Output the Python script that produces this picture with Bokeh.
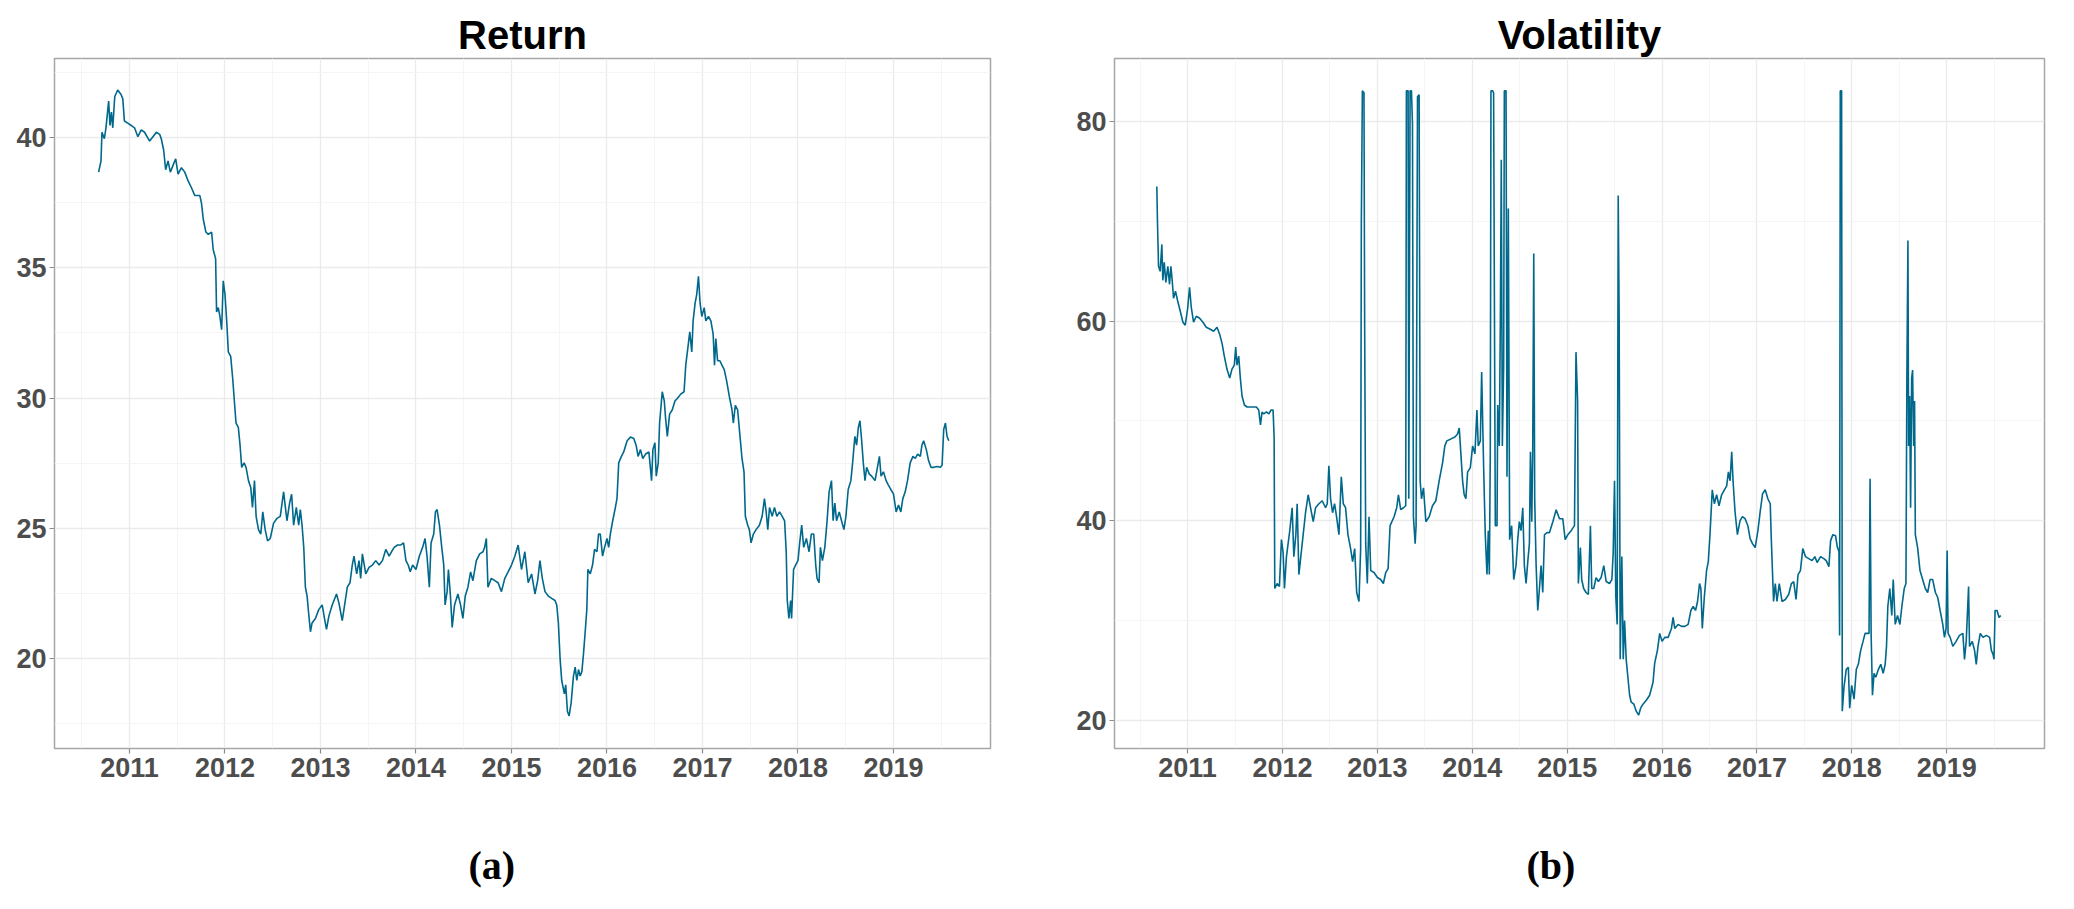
from bokeh.plotting import figure
from bokeh.models import FixedTicker, Range1d, Title, LinearAxis
from bokeh.layouts import row
from bokeh.embed import file_html
from bokeh.resources import INLINE

# ---------------- data ----------------
year_ticks = [2011, 2012, 2013, 2014, 2015, 2016, 2017, 2018, 2019]
year_minor = [2010.5, 2011.5, 2012.5, 2013.5, 2014.5, 2015.5, 2016.5, 2017.5, 2018.5, 2019.5]

return_ticks = [20, 25, 30, 35, 40]
return_minor = [17.5, 22.5, 27.5, 32.5, 37.5, 42.5]
vol_ticks = [20, 40, 60, 80]
vol_minor = [30, 50, 70]

return_year = [
    2010.677, 2010.702, 2010.712, 2010.737, 2010.754, 2010.782, 2010.796, 2010.811, 2010.825, 2010.846,
    2010.877, 2010.912, 2010.930, 2010.947, 2010.982, 2011.018, 2011.053, 2011.088, 2011.123, 2011.158,
    2011.211, 2011.246, 2011.281, 2011.316, 2011.333, 2011.358, 2011.379, 2011.404, 2011.428, 2011.456,
    2011.484, 2011.509, 2011.544, 2011.579, 2011.614, 2011.649, 2011.684, 2011.737, 2011.754, 2011.772,
    2011.800, 2011.825, 2011.860, 2011.877, 2011.902, 2011.912, 2011.930, 2011.947, 2011.965, 2011.982,
    2012.000, 2012.018, 2012.035, 2012.060, 2012.081, 2012.105, 2012.116, 2012.140, 2012.158, 2012.175,
    2012.200, 2012.221, 2012.246, 2012.270, 2012.288, 2012.309, 2012.326, 2012.351, 2012.375, 2012.396,
    2012.421, 2012.446, 2012.474, 2012.509, 2012.544, 2012.579, 2012.614, 2012.649, 2012.677, 2012.698,
    2012.719, 2012.747, 2012.772, 2012.789, 2012.807, 2012.825, 2012.842, 2012.860, 2012.877, 2012.895,
    2012.912, 2012.947, 2012.982, 2013.018, 2013.042, 2013.063, 2013.088, 2013.123, 2013.168, 2013.193,
    2013.228, 2013.253, 2013.281, 2013.309, 2013.333, 2013.351, 2013.379, 2013.404, 2013.421, 2013.439,
    2013.474, 2013.509, 2013.544, 2013.579, 2013.614, 2013.649, 2013.684, 2013.719, 2013.744, 2013.772,
    2013.807, 2013.842, 2013.870, 2013.895, 2013.919, 2013.940, 2013.965, 2014.000, 2014.035, 2014.070,
    2014.095, 2014.116, 2014.140, 2014.158, 2014.186, 2014.204, 2014.221, 2014.246, 2014.270, 2014.291,
    2014.305, 2014.326, 2014.340, 2014.361, 2014.379, 2014.404, 2014.439, 2014.467, 2014.491, 2014.516,
    2014.544, 2014.572, 2014.596, 2014.632, 2014.667, 2014.702, 2014.719, 2014.737, 2014.754, 2014.789,
    2014.825, 2014.860, 2014.895, 2014.930, 2014.965, 2015.000, 2015.035, 2015.070, 2015.105, 2015.140,
    2015.175, 2015.211, 2015.246, 2015.274, 2015.298, 2015.323, 2015.351, 2015.386, 2015.421, 2015.456,
    2015.474, 2015.491, 2015.509, 2015.526, 2015.554, 2015.568, 2015.586, 2015.604, 2015.625, 2015.649,
    2015.667, 2015.684, 2015.702, 2015.719, 2015.737, 2015.754, 2015.772, 2015.789, 2015.800, 2015.825,
    2015.849, 2015.870, 2015.895, 2015.912, 2015.930, 2015.954, 2015.975, 2016.000, 2016.018, 2016.035,
    2016.060, 2016.088, 2016.105, 2016.123, 2016.151, 2016.175, 2016.211, 2016.246, 2016.281, 2016.305,
    2016.326, 2016.351, 2016.375, 2016.404, 2016.439, 2016.467, 2016.481, 2016.502, 2016.516, 2016.537,
    2016.551, 2016.579, 2016.600, 2016.614, 2016.632, 2016.656, 2016.684, 2016.712, 2016.737, 2016.772,
    2016.807, 2016.825, 2016.853, 2016.867, 2016.888, 2016.902, 2016.923, 2016.940, 2016.958, 2016.975,
    2016.993, 2017.018, 2017.035, 2017.063, 2017.088, 2017.112, 2017.126, 2017.140, 2017.158, 2017.182,
    2017.204, 2017.228, 2017.253, 2017.281, 2017.309, 2017.323, 2017.344, 2017.368, 2017.393, 2017.414,
    2017.435, 2017.449, 2017.474, 2017.491, 2017.509, 2017.533, 2017.561, 2017.596, 2017.625, 2017.649,
    2017.667, 2017.684, 2017.702, 2017.730, 2017.754, 2017.779, 2017.807, 2017.835, 2017.860, 2017.877,
    2017.888, 2017.905, 2017.923, 2017.933, 2017.954, 2017.975, 2018.000, 2018.018, 2018.039, 2018.060,
    2018.088, 2018.116, 2018.140, 2018.165, 2018.186, 2018.200, 2018.221, 2018.235, 2018.256, 2018.281,
    2018.305, 2018.326, 2018.351, 2018.368, 2018.386, 2018.404, 2018.432, 2018.456, 2018.481, 2018.502,
    2018.526, 2018.554, 2018.572, 2018.596, 2018.614, 2018.632, 2018.649, 2018.667, 2018.684, 2018.702,
    2018.719, 2018.747, 2018.772, 2018.807, 2018.832, 2018.853, 2018.870, 2018.895, 2018.923, 2018.947,
    2018.972, 2019.000, 2019.028, 2019.053, 2019.077, 2019.098, 2019.123, 2019.147, 2019.175, 2019.204,
    2019.228, 2019.253, 2019.281, 2019.298, 2019.316, 2019.344, 2019.368, 2019.393, 2019.421, 2019.456,
    2019.491, 2019.509, 2019.526, 2019.544, 2019.561, 2019.579,
]
return_value = [
    38.67, 39.10, 40.20, 39.95, 40.37, 41.40, 40.46, 40.97, 40.37, 41.57,
    41.82, 41.65, 41.48, 40.63, 40.55, 40.46, 40.37, 40.03, 40.29, 40.20,
    39.86, 40.03, 40.20, 40.12, 39.95, 39.52, 38.76, 39.10, 38.67, 38.93,
    39.18, 38.59, 38.84, 38.67, 38.33, 38.07, 37.77, 37.77, 37.48, 36.88,
    36.37, 36.28, 36.37, 35.69, 35.35, 33.30, 33.47, 33.13, 32.62, 34.50,
    33.98, 32.96, 31.77, 31.60, 30.75, 29.55, 29.04, 28.87, 28.19, 27.34,
    27.51, 27.34, 26.83, 26.57, 25.80, 26.83, 25.46, 24.95, 24.78, 25.63,
    24.95, 24.52, 24.61, 25.20, 25.38, 25.46, 26.40, 25.29, 25.97, 26.31,
    25.12, 25.80, 25.12, 25.72, 25.12, 24.27, 22.74, 22.40, 21.71, 21.03,
    21.37, 21.54, 21.88, 22.06, 21.54, 21.12, 21.63, 22.06, 22.48, 22.14,
    21.46, 22.06, 22.74, 22.91, 23.59, 23.93, 23.25, 23.76, 23.08, 24.02,
    23.25, 23.50, 23.59, 23.76, 23.59, 23.76, 24.19, 23.93, 24.10, 24.27,
    24.36, 24.36, 24.44, 23.76, 23.59, 23.33, 23.59, 23.42, 23.93, 24.27,
    24.61, 23.93, 22.74, 24.44, 24.78, 25.63, 25.72, 25.12, 24.27, 23.59,
    22.06, 22.57, 23.42, 22.40, 21.20, 22.06, 22.48, 22.06, 21.54, 22.40,
    22.74, 23.33, 22.99, 23.76, 24.02, 24.10, 24.27, 24.61, 22.74, 23.08,
    22.99, 22.91, 22.57, 23.08, 23.33, 23.59, 23.93, 24.36, 23.42, 24.10,
    22.91, 23.25, 22.48, 22.99, 23.76, 23.08, 22.57, 22.40, 22.31, 22.23,
    22.06, 21.37, 20.01, 19.16, 18.65, 18.99, 17.97, 17.80, 18.31, 19.33,
    19.67, 19.16, 19.58, 19.33, 19.50, 20.18, 21.03, 21.88, 23.42, 23.25,
    23.59, 24.19, 24.10, 24.78, 24.78, 23.93, 24.27, 24.61, 24.27, 24.78,
    25.29, 25.80, 26.14, 27.51, 27.76, 27.93, 28.36, 28.50, 28.45, 28.19,
    27.76, 28.02, 27.68, 27.85, 27.93, 26.83, 28.02, 28.28, 27.00, 27.51,
    29.04, 30.24, 29.89, 29.21, 28.53, 29.38, 29.55, 29.89, 29.98, 30.15,
    30.24, 31.26, 32.11, 32.54, 31.77, 32.96, 33.64, 33.98, 34.67, 33.64,
    33.13, 33.47, 32.96, 33.13, 32.96, 32.45, 31.26, 32.28, 31.43, 31.43,
    31.26, 31.09, 30.66, 30.06, 29.55, 29.04, 29.72, 29.55, 28.53, 27.68,
    27.17, 25.46, 25.12, 24.95, 24.44, 24.78, 24.95, 25.12, 25.46, 26.14,
    25.63, 24.95, 25.80, 25.46, 25.80, 25.46, 25.63, 25.46, 25.29, 24.10,
    22.23, 21.54, 22.23, 21.54, 23.42, 23.59, 23.76, 24.44, 25.12, 24.27,
    24.61, 24.10, 24.78, 24.78, 23.59, 23.08, 22.91, 24.27, 23.76, 24.27,
    25.29, 26.40, 26.83, 25.29, 25.97, 25.29, 25.63, 25.29, 24.95, 25.46,
    26.49, 26.83, 27.51, 28.53, 28.19, 28.87, 29.13, 28.36, 27.51, 26.83,
    27.34, 27.08, 27.00, 26.83, 27.34, 27.76, 27.00, 27.17, 26.83, 26.66,
    26.49, 26.32, 25.63, 25.89, 25.63, 26.14, 26.40, 26.83, 27.51, 27.76,
    27.68, 27.85, 27.76, 28.19, 28.36, 28.02, 27.59, 27.34, 27.34, 27.37,
    27.34, 27.42, 28.79, 29.04, 28.53, 28.36,
]

vol_year = [
    2010.676, 2010.683, 2010.694, 2010.711, 2010.729, 2010.739, 2010.754, 2010.771, 2010.792, 2010.810,
    2010.824, 2010.838, 2010.852, 2010.873, 2010.894, 2010.923, 2010.951, 2010.975, 2011.000, 2011.021,
    2011.039, 2011.063, 2011.092, 2011.127, 2011.162, 2011.197, 2011.239, 2011.275, 2011.310, 2011.338,
    2011.363, 2011.387, 2011.415, 2011.444, 2011.468, 2011.493, 2011.507, 2011.521, 2011.539, 2011.556,
    2011.574, 2011.599, 2011.627, 2011.680, 2011.725, 2011.750, 2011.768, 2011.785, 2011.803, 2011.831,
    2011.856, 2011.880, 2011.901, 2011.912, 2011.919, 2011.944, 2011.968, 2011.989, 2012.007, 2012.021,
    2012.042, 2012.077, 2012.102, 2012.120, 2012.141, 2012.155, 2012.173, 2012.208, 2012.243, 2012.271,
    2012.296, 2012.324, 2012.349, 2012.384, 2012.419, 2012.454, 2012.472, 2012.489, 2012.507, 2012.528,
    2012.549, 2012.570, 2012.595, 2012.620, 2012.641, 2012.665, 2012.690, 2012.718, 2012.739, 2012.761,
    2012.782, 2012.806, 2012.824, 2012.831, 2012.842, 2012.859, 2012.866, 2012.877, 2012.894, 2012.912,
    2012.930, 2012.965, 2013.000, 2013.035, 2013.063, 2013.088, 2013.113, 2013.134, 2013.176, 2013.204,
    2013.222, 2013.246, 2013.275, 2013.299, 2013.306, 2013.324, 2013.331, 2013.345, 2013.359, 2013.370,
    2013.380, 2013.398, 2013.408, 2013.423, 2013.440, 2013.451, 2013.465, 2013.486, 2013.511, 2013.546,
    2013.581, 2013.616, 2013.651, 2013.687, 2013.711, 2013.732, 2013.775, 2013.817, 2013.845, 2013.863,
    2013.880, 2013.898, 2013.915, 2013.933, 2013.951, 2013.979, 2014.004, 2014.028, 2014.049, 2014.063,
    2014.085, 2014.099, 2014.120, 2014.137, 2014.155, 2014.169, 2014.180, 2014.190, 2014.197, 2014.215,
    2014.225, 2014.232, 2014.243, 2014.261, 2014.268, 2014.285, 2014.296, 2014.306, 2014.317, 2014.331,
    2014.338, 2014.356, 2014.366, 2014.380, 2014.394, 2014.415, 2014.437, 2014.461, 2014.479, 2014.496,
    2014.514, 2014.532, 2014.549, 2014.567, 2014.585, 2014.602, 2014.613, 2014.627, 2014.637, 2014.648,
    2014.658, 2014.673, 2014.690, 2014.708, 2014.725, 2014.743, 2014.761, 2014.789, 2014.813, 2014.849,
    2014.884, 2014.919, 2014.954, 2014.979, 2015.007, 2015.042, 2015.077, 2015.093, 2015.110, 2015.118,
    2015.139, 2015.153, 2015.174, 2015.199, 2015.223, 2015.245, 2015.259, 2015.280, 2015.305, 2015.329,
    2015.358, 2015.386, 2015.411, 2015.446, 2015.471, 2015.485, 2015.499, 2015.513, 2015.527, 2015.538,
    2015.548, 2015.559, 2015.576, 2015.591, 2015.605, 2015.622, 2015.640, 2015.658, 2015.675, 2015.703,
    2015.728, 2015.753, 2015.774, 2015.799, 2015.834, 2015.869, 2015.905, 2015.922, 2015.951, 2015.975,
    2016.000, 2016.028, 2016.064, 2016.099, 2016.116, 2016.134, 2016.169, 2016.205, 2016.240, 2016.275,
    2016.304, 2016.328, 2016.353, 2016.374, 2016.395, 2016.409, 2016.424, 2016.445, 2016.469, 2016.487,
    2016.505, 2016.529, 2016.551, 2016.575, 2016.600, 2016.628, 2016.657, 2016.681, 2016.699, 2016.717,
    2016.734, 2016.748, 2016.769, 2016.794, 2016.822, 2016.847, 2016.875, 2016.904, 2016.928, 2016.953,
    2016.981, 2017.010, 2017.034, 2017.059, 2017.087, 2017.115, 2017.140, 2017.151, 2017.175, 2017.193,
    2017.211, 2017.235, 2017.264, 2017.299, 2017.334, 2017.363, 2017.387, 2017.412, 2017.433, 2017.458,
    2017.483, 2017.511, 2017.546, 2017.581, 2017.610, 2017.634, 2017.670, 2017.705, 2017.730, 2017.758,
    2017.776, 2017.800, 2017.828, 2017.846, 2017.864, 2017.871, 2017.878, 2017.892, 2017.899, 2017.917,
    2017.941, 2017.963, 2017.977, 2017.998, 2018.023, 2018.047, 2018.068, 2018.093, 2018.118, 2018.139,
    2018.164, 2018.181, 2018.192, 2018.203, 2018.217, 2018.234, 2018.252, 2018.280, 2018.305, 2018.330,
    2018.351, 2018.365, 2018.379, 2018.400, 2018.421, 2018.436, 2018.457, 2018.481, 2018.506, 2018.527,
    2018.552, 2018.570, 2018.580, 2018.591, 2018.598, 2018.609, 2018.619, 2018.630, 2018.640, 2018.651,
    2018.661, 2018.669, 2018.693, 2018.718, 2018.746, 2018.774, 2018.799, 2018.824, 2018.852, 2018.880,
    2018.905, 2018.930, 2018.958, 2018.976, 2018.993, 2019.004, 2019.014, 2019.036, 2019.064, 2019.099,
    2019.134, 2019.170, 2019.187, 2019.205, 2019.230, 2019.240, 2019.269, 2019.293, 2019.311, 2019.329,
    2019.353, 2019.382, 2019.417, 2019.452, 2019.470, 2019.488, 2019.498, 2019.509, 2019.530, 2019.551,
    2019.569,
]
vol_value = [
    73.5, 69.9, 65.5, 65.0, 67.7, 64.1, 65.9, 63.9, 65.5, 63.7,
    65.5, 64.1, 62.3, 63.0, 62.1, 61.0, 59.9, 59.6, 61.2, 63.4,
    61.4, 59.9, 60.5, 60.3, 59.9, 59.4, 59.2, 59.0, 59.4, 58.7,
    57.8, 56.5, 55.2, 54.3, 55.2, 55.6, 57.4, 55.6, 56.5, 54.3,
    52.5, 51.6, 51.4, 51.4, 51.4, 51.1, 49.6, 50.9, 50.7, 50.9,
    50.7, 51.1, 51.1, 48.4, 33.2, 33.7, 33.4, 38.1, 36.8, 33.2,
    36.4, 39.0, 41.3, 36.4, 38.6, 41.7, 34.6, 37.7, 40.8, 42.6,
    41.3, 39.9, 41.3, 41.7, 42.0, 41.3, 41.7, 45.5, 42.2, 40.8,
    41.7, 40.4, 38.6, 44.4, 41.7, 41.3, 38.6, 37.2, 35.9, 37.2,
    32.8, 31.9, 37.2, 69.9, 83.1, 82.9, 59.6, 37.7, 33.7, 40.4,
    35.0, 34.8, 34.3, 34.1, 33.7, 34.8, 35.2, 39.5, 40.4, 41.3,
    42.6, 41.1, 41.3, 41.5, 83.1, 83.1, 42.2, 83.1, 83.1, 79.8,
    40.4, 37.7, 39.5, 82.5, 82.7, 44.0, 42.2, 43.3, 39.9, 40.4,
    41.5, 42.0, 44.0, 45.8, 47.5, 48.0, 48.2, 48.4, 48.7, 49.3,
    46.7, 44.0, 42.6, 42.2, 44.9, 45.3, 47.5, 46.7, 51.1, 47.5,
    48.0, 54.9, 45.3, 38.6, 34.6, 39.0, 34.6, 46.7, 83.1, 83.1,
    82.9, 65.0, 39.5, 39.5, 51.6, 47.5, 60.1, 76.2, 47.5, 55.6,
    83.1, 83.1, 44.4, 71.3, 38.1, 39.5, 34.1, 35.5, 38.1, 39.9,
    39.0, 41.3, 35.5, 33.7, 35.9, 37.7, 46.9, 39.9, 46.9, 66.8,
    42.2, 35.5, 31.0, 33.2, 35.5, 32.8, 38.6, 38.8, 38.8, 39.9,
    41.1, 40.2, 40.2, 38.1, 38.6, 39.0, 39.5, 56.9, 52.0, 33.7,
    37.3, 34.1, 33.2, 32.8, 32.6, 39.5, 33.2, 33.2, 34.3, 33.9,
    34.3, 35.5, 33.9, 33.7, 34.1, 36.8, 44.0, 32.3, 29.6, 72.6,
    60.1, 26.1, 36.4, 26.1, 30.0, 26.1, 24.3, 22.5, 21.8, 21.6,
    20.9, 20.5, 21.2, 21.6, 22.0, 22.5, 23.8, 25.7, 27.0, 28.7,
    27.9, 28.3, 28.3, 29.2, 30.3, 29.2, 29.6, 29.4, 29.4, 29.6,
    31.0, 31.4, 31.0, 31.9, 33.7, 33.2, 29.2, 32.3, 35.0, 35.9,
    38.6, 43.1, 41.7, 42.6, 41.5, 42.6, 43.1, 43.5, 44.9, 44.0,
    46.9, 44.0, 40.9, 38.6, 40.0, 40.4, 40.2, 39.5, 38.2, 37.7,
    37.3, 39.0, 40.9, 42.7, 43.1, 42.2, 41.7, 38.2, 31.9, 33.7,
    31.9, 33.7, 31.9, 32.1, 32.6, 33.7, 33.9, 32.1, 34.6, 35.0,
    37.2, 36.4, 36.2, 36.0, 36.4, 35.8, 36.4, 36.2, 36.0, 35.4,
    38.0, 38.6, 38.5, 37.4, 36.9, 28.5, 83.1, 83.1, 20.9, 23.3,
    25.1, 25.3, 21.2, 23.5, 22.1, 25.1, 25.6, 27.0, 27.9, 28.7,
    28.7, 28.7, 44.2, 28.7, 22.5, 24.7, 24.3, 25.1, 25.6, 24.7,
    25.6, 27.4, 31.4, 33.2, 30.5, 34.1, 29.6, 30.5, 29.6, 31.4,
    33.2, 33.7, 54.7, 68.1, 47.5, 52.5, 41.3, 54.3, 55.1, 47.5,
    52.0, 38.6, 37.3, 35.0, 34.1, 33.2, 32.8, 34.1, 34.1, 32.8,
    32.3, 31.0, 29.6, 28.3, 29.2, 37.0, 28.7, 28.3, 27.4, 27.9,
    28.5, 28.7, 26.1, 27.9, 33.4, 27.4, 27.9, 27.0, 25.6, 27.4,
    28.7, 28.3, 28.5, 28.3, 27.0, 26.6, 26.1, 31.0, 31.0, 30.3,
    30.5,
]

titles = ["Return", "Volatility"]
captions = ["(a)", "(b)"]

# ---------------- styling ----------------
LINE_COLOR = "#00688B"
TICK_LABEL_COLOR = "#4D4D4D"
FONT = "Liberation Sans"


def make_panel(title, xs, ys, yticks, yminor, yrange, xrange, width, borders, caption, cap_offset):
    left, right, top, bottom = borders
    p = figure(width=width, height=893, output_backend="svg", toolbar_location=None,
               x_range=Range1d(*xrange), y_range=Range1d(*yrange),
               min_border_left=left, min_border_right=right,
               min_border_top=top, min_border_bottom=bottom)
    p.background_fill_color = "white"
    p.border_fill_color = "white"
    p.outline_line_color = "#A6A6A6"
    p.outline_line_width = 1.5

    p.line(xs, ys, line_color=LINE_COLOR, line_width=1.6)

    p.xaxis.ticker = FixedTicker(ticks=year_ticks, minor_ticks=year_minor)
    p.yaxis.ticker = FixedTicker(ticks=yticks, minor_ticks=yminor)
    for ax in (p.xaxis, p.yaxis):
        ax.axis_line_color = None
        ax.major_tick_in = 0
        ax.major_tick_out = 5
        ax.major_tick_line_color = "#8C8C8C"
        ax.major_tick_line_width = 1.2
        ax.minor_tick_line_color = None
        ax.major_label_text_font = FONT
        ax.major_label_text_font_style = "bold"
        ax.major_label_text_font_size = "27px"
        ax.major_label_text_color = TICK_LABEL_COLOR
    p.xaxis.major_label_standoff = 4
    p.yaxis.major_label_standoff = 3

    for g in (p.xgrid, p.ygrid):
        g.grid_line_color = "#EBEBEB"
        g.grid_line_width = 1.3
        g.minor_grid_line_color = "#F4F4F4"
        g.minor_grid_line_width = 0.9

    p.title.text = title
    p.title.align = "center"
    p.title.text_font = FONT
    p.title.text_font_size = "40px"
    p.title.text_font_style = "bold"
    p.title.text_color = "black"
    p.title.standoff = 4

    # invisible spacer axis (one hidden tick, empty label) between tick labels and caption
    mid = year_ticks[4]
    spacer = LinearAxis(ticker=FixedTicker(ticks=[mid]), axis_line_color=None,
                        major_tick_line_color=None, minor_tick_line_color=None,
                        major_tick_in=0, major_tick_out=59, major_label_standoff=0,
                        major_label_overrides={mid: ""}, major_label_text_font_size="1px")
    p.add_layout(spacer, "below")

    p.add_layout(Title(text=caption, align="left", offset=cap_offset, standoff=4,
                       text_font="Liberation Serif", text_font_style="bold",
                       text_font_size="40px", text_color="black"), "below")
    return p


p1 = make_panel(titles[0], return_year, return_value, return_ticks, return_minor,
                (16.55, 43.03), (2010.215, 2020.016), 1032, (54, 42, 56, 143),
                captions[0], 414)
p2 = make_panel(titles[1], vol_year, vol_value, vol_ticks, vol_minor,
                (17.16, 86.34), (2010.23, 2020.03), 1026, (82, 14, 58, 145),
                captions[1], 412)

layout = row(p1, p2)
open("out.html", "w").write(file_html(layout, INLINE))
